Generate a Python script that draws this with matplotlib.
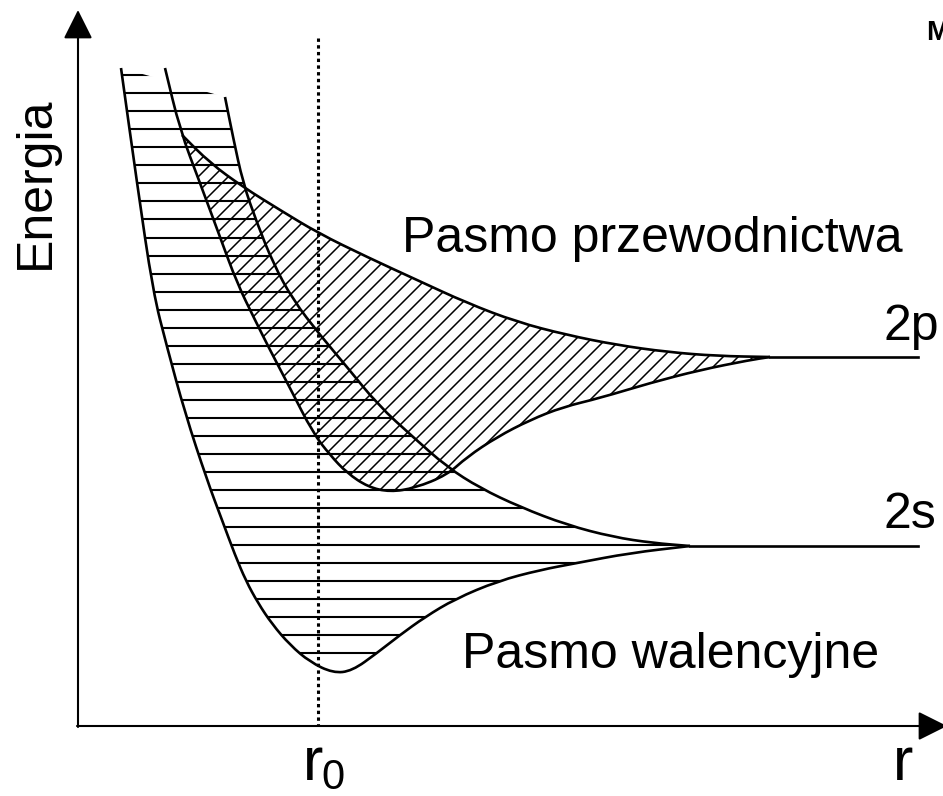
import numpy as np
import matplotlib
matplotlib.use("Agg")
import matplotlib.pyplot as plt
from matplotlib.path import Path
from matplotlib.patches import PathPatch
from matplotlib.collections import LineCollection

plt.rcParams['font.family'] = ['Liberation Sans', 'DejaVu Sans']

# band edges (r to the right, y in picture units, growing downward)
val_low_r = [121, 137, 153, 167, 185, 207, 222, 235, 246, 258, 272, 290, 310, 333, 352, 377, 400, 425, 455, 498, 540, 577, 630, 690]
val_low_y = [68, 183, 292, 347, 413, 480, 520, 555, 581, 603, 624, 645, 662, 673, 671, 653, 635, 617, 599, 581, 570, 563, 553, 546]

val_up_r = [225, 233, 243, 257, 273, 293, 320, 347, 378, 413, 447, 480, 520, 567, 613, 653, 690]
val_up_y = [97, 137, 183, 223, 263, 300, 335, 367, 405, 437, 467, 488, 507, 525, 537, 543, 546]

con_low_r = [165, 180, 200, 220, 237, 255, 270, 290, 313, 330, 347, 368, 390, 415, 447, 467, 497, 530, 563, 600, 650, 700, 750, 770]
con_low_y = [68, 130, 183, 237, 283, 320, 350, 388, 433, 455, 473, 487, 492, 488, 475, 457, 437, 420, 407, 398, 383, 370, 360, 357]

con_up_r = [182, 210, 243, 280, 318, 367, 417, 467, 517, 567, 617, 667, 717, 770]
con_up_y = [135, 163, 187, 210, 233, 257, 280, 303, 322, 335, 345, 352, 356, 357]

level_2p = 357
level_2s = 546
r_end = 918
r0 = 318


def smooth(xs, ys):
    # quadratic curve through the read points' midpoints
    pts = np.column_stack([xs, ys]).astype(float)
    mids = (pts[:-1] + pts[1:]) / 2
    verts = [pts[0], mids[0]]
    codes = [Path.MOVETO, Path.LINETO]
    for i in range(1, len(pts) - 1):
        verts += [pts[i], mids[i]]
        codes += [Path.CURVE3, Path.CURVE3]
    verts.append(pts[-1])
    codes.append(Path.LINETO)
    return verts, codes


def region(xa, ya, xb, yb):
    va, ca = smooth(xa, ya)
    vb, cb = smooth(xb[::-1], yb[::-1])
    verts = va + vb + [va[0]]
    codes = ca + [Path.LINETO] + cb[1:] + [Path.CLOSEPOLY]
    return Path(verts, codes)


fig = plt.figure(figsize=(9.43, 7.96), dpi=100)
ax = fig.add_axes([0, 0, 1, 1])
ax.set_xlim(0, 943)
ax.set_ylim(796, 0)
ax.axis('off')

# valence band, horizontal hatching
val_clip = PathPatch(region(val_low_r, val_low_y, val_up_r, val_up_y), transform=ax.transData)
levels = np.arange(75, 660, 18.06)
hl = LineCollection([[(100, y), (720, y)] for y in levels], colors='black', linewidths=1.5)
ax.add_collection(hl)
hl.set_clip_path(val_clip)

# conduction band, diagonal hatching
con_clip = PathPatch(region(con_up_r, con_up_y, con_low_r[2:], con_low_y[2:]), transform=ax.transData)
offs = np.arange(300, 1160, 15)
dl = LineCollection([[(100, c - 100), (900, c - 900)] for c in offs], colors='black', linewidths=1.1)
ax.add_collection(dl)
dl.set_clip_path(con_clip)

# band edges
for rr, yy in [(val_low_r, val_low_y), (val_up_r, val_up_y), (con_low_r, con_low_y), (con_up_r, con_up_y)]:
    v, c = smooth(rr, yy)
    ax.add_patch(PathPatch(Path(v, c), fill=False, edgecolor='black', lw=1.9, joinstyle='round'))
ax.plot([con_low_r[-1], r_end], [level_2p, level_2p], color='black', lw=1.9)
ax.plot([val_low_r[-1], r_end], [level_2s, level_2s], color='black', lw=1.9)

# r0 marker
ax.plot([r0, r0], [38, 726], color='black', lw=2.2, linestyle=(0, (1.1, 1.1)))

# axes with arrows
arr = dict(arrowstyle='-|>,head_length=0.4,head_width=0.2', mutation_scale=45,
           color='black', lw=1.5, shrinkA=0, shrinkB=0)
ax.annotate('', xy=(78, 10), xytext=(78, 727), arrowprops=arr, annotation_clip=False)
ax.annotate('', xy=(947, 726), xytext=(77, 726), arrowprops=arr, annotation_clip=False)

# labels
ax.text(36, 183, 'Energia', rotation=90, fontsize=36, ha='center', va='center')
ax.text(402, 252, 'Pasmo przewodnictwa', fontsize=36, ha='left', va='baseline')
ax.text(462, 668, 'Pasmo walencyjne', fontsize=36, ha='left', va='baseline')
ax.text(883, 340, '2p', fontsize=36, ha='left', va='baseline')
ax.text(883, 528, '2s', fontsize=36, ha='left', va='baseline')
ax.text(303, 780, 'r', fontsize=44, ha='left', va='baseline')
ax.text(321, 789, '0', fontsize=30, ha='left', va='baseline')
ax.text(903, 780, 'r', fontsize=44, ha='center', va='baseline')
ax.text(926, 40, 'M', fontsize=20, fontweight='bold', ha='left', va='baseline')

fig.savefig('out.png', dpi=100)
